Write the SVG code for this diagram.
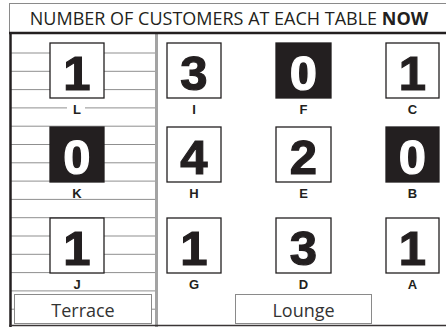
<svg xmlns="http://www.w3.org/2000/svg" width="446" height="327" viewBox="0 0 446 327">
<style>
.tb{fill:#fff;stroke:#231f20;stroke-width:1.3}
.tb.on{fill:#231f20}
.dg{font-family:"Liberation Sans",Arial,sans-serif;font-weight:700;font-size:49px;fill:#231f20;stroke:#231f20;stroke-width:1.2;text-anchor:middle}
.on+.dg{fill:#fff;stroke:#fff}
.lb{font-family:"Liberation Sans",Arial,sans-serif;font-weight:700;font-size:13px;fill:#231f20;text-anchor:middle}
.ar{fill:#fff;stroke:#8a8a8a;stroke-width:1}
.at{font-family:"Open Sans","DejaVu Sans",sans-serif;font-size:18px;fill:#333;text-anchor:middle}
.hl{stroke:#8f8f8f;stroke-width:1}
</style>
<rect x="0" y="0" width="446" height="327" fill="#fff"/>
<g id="title">
<rect x="9.5" y="3.5" width="440" height="30" fill="#fff" stroke="#8a8a8a" stroke-width="1"/>
<text x="229" y="25" font-family="'Open Sans','DejaVu Sans',sans-serif" font-size="18" fill="#231f20" text-anchor="middle">NUMBER OF CUSTOMERS AT EACH TABLE <tspan font-weight="700">NOW</tspan></text>
</g>
<g id="terrace-lines">
<line class="hl" x1="11" y1="53" x2="155" y2="53"/>
<line class="hl" x1="11" y1="71.3" x2="155" y2="71.3"/>
<line class="hl" x1="11" y1="89.6" x2="155" y2="89.6"/>
<line class="hl" x1="11" y1="107.9" x2="155" y2="107.9"/>
<line class="hl" x1="11" y1="126.2" x2="155" y2="126.2"/>
<line class="hl" x1="11" y1="144.5" x2="155" y2="144.5"/>
<line class="hl" x1="11" y1="162.8" x2="155" y2="162.8"/>
<line class="hl" x1="11" y1="181.1" x2="155" y2="181.1"/>
<line class="hl" x1="11" y1="199.4" x2="155" y2="199.4"/>
<line class="hl" x1="11" y1="217.7" x2="155" y2="217.7"/>
<line class="hl" x1="11" y1="236" x2="155" y2="236"/>
<line class="hl" x1="11" y1="254.3" x2="155" y2="254.3"/>
<line class="hl" x1="11" y1="272.6" x2="155" y2="272.6"/>
<line class="hl" x1="11" y1="290.9" x2="155" y2="290.9"/>
<line class="hl" x1="11" y1="309.2" x2="155" y2="309.2"/>
</g>
<g id="frame">
<rect x="155" y="33" width="3" height="294" fill="#a3a3a3"/>
<line x1="9" y1="33" x2="446" y2="33" stroke="#231f20" stroke-width="2.5"/>
<line x1="10.5" y1="33" x2="10.5" y2="327" stroke="#231f20" stroke-width="2.5"/>
<line x1="9" y1="325.5" x2="446" y2="325.5" stroke="#3a3536" stroke-width="1.5"/>
</g>
<g id="connectors"/>
<g id="table-L"><rect class="tb" x="50" y="43" width="54" height="55"/><text class="dg" x="77" y="90">1</text><rect x="67" y="102" width="18" height="12" fill="#fff"/><text class="lb" x="77" y="113.5">L</text></g>
<g id="table-K"><rect class="tb on" x="50" y="127" width="54" height="55"/><text class="dg" x="77" y="174">0</text><rect x="68" y="186" width="18" height="12" fill="#fff"/><text class="lb" x="77" y="197.5">K</text></g>
<g id="table-J"><rect class="tb" x="50" y="218" width="54" height="55"/><text class="dg" x="77" y="265">1</text><text class="lb" x="77" y="288.5">J</text></g>
<g id="table-I"><rect class="tb" x="167" y="43" width="54" height="55"/><text class="dg" x="194" y="90">3</text><text class="lb" x="194" y="113.5">I</text></g>
<g id="table-H"><rect class="tb" x="167" y="127" width="54" height="55"/><text class="dg" x="194" y="174">4</text><text class="lb" x="194" y="197.5">H</text></g>
<g id="table-G"><rect class="tb" x="167" y="218" width="54" height="55"/><text class="dg" x="194" y="265">1</text><text class="lb" x="194" y="288.5">G</text></g>
<g id="table-F"><rect class="tb on" x="276" y="43" width="55" height="55"/><text class="dg" x="303.5" y="90">0</text><text class="lb" x="303.5" y="113.5">F</text></g>
<g id="table-E"><rect class="tb" x="276" y="127" width="55" height="55"/><text class="dg" x="303.5" y="174">2</text><text class="lb" x="303.5" y="197.5">E</text></g>
<g id="table-D"><rect class="tb" x="276" y="218" width="55" height="55"/><text class="dg" x="303.5" y="265">3</text><text class="lb" x="303.5" y="288.5">D</text></g>
<g id="table-C"><rect class="tb" x="386" y="43" width="53" height="55"/><text class="dg" x="412.5" y="90">1</text><text class="lb" x="412.5" y="113.5">C</text></g>
<g id="table-B"><rect class="tb on" x="386" y="127" width="53" height="55"/><text class="dg" x="412.5" y="174">0</text><text class="lb" x="412.5" y="197.5">B</text></g>
<g id="table-A"><rect class="tb" x="386" y="218" width="53" height="55"/><text class="dg" x="412.5" y="265">1</text><text class="lb" x="412.5" y="288.5">A</text></g>
<g id="area-terrace"><rect class="ar" x="14.5" y="294.5" width="137" height="29"/><text class="at" x="83" y="317">Terrace</text></g>
<g id="area-lounge"><rect class="ar" x="235.5" y="294.5" width="136" height="29"/><text class="at" x="303.5" y="317">Lounge</text></g>
</svg>
